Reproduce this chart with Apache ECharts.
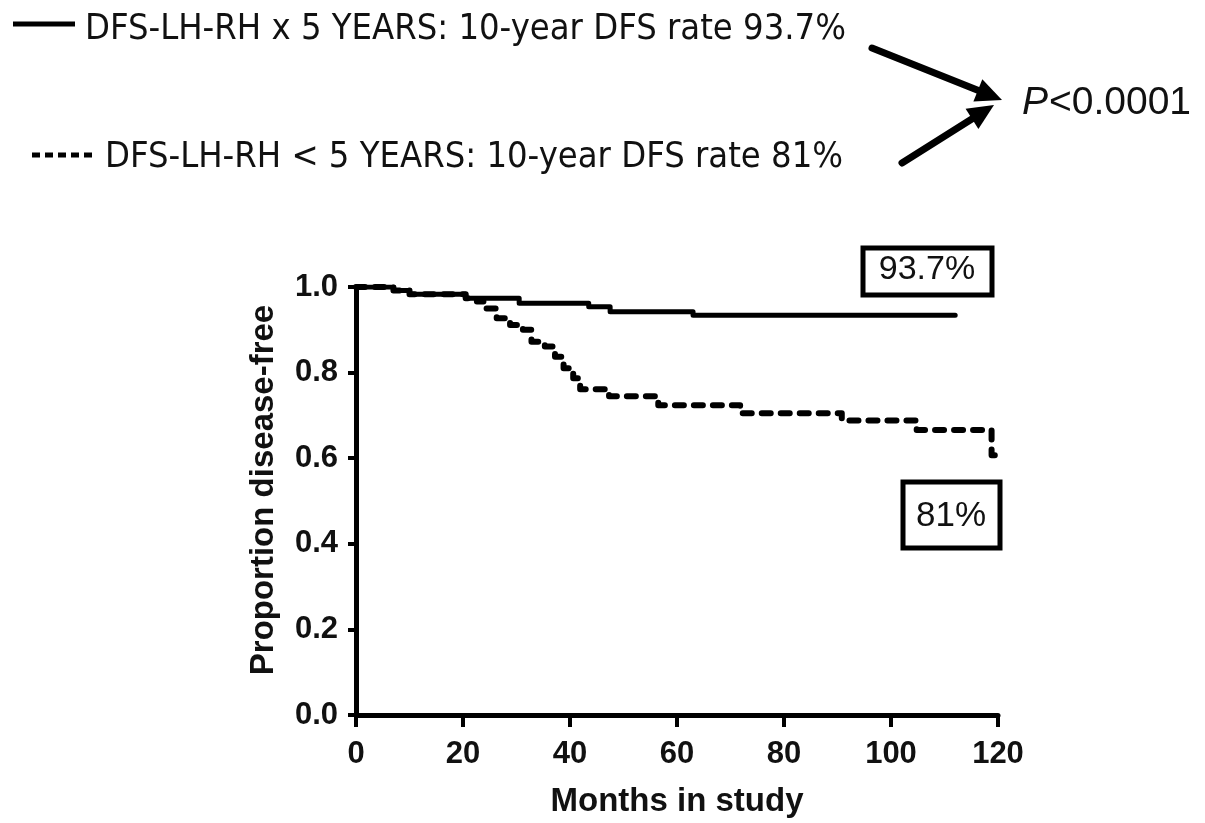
<!DOCTYPE html>
<html>
<head>
<meta charset="utf-8">
<script src="https://cdn.jsdelivr.net/npm/echarts@6/dist/echarts.min.js"></script>
<style>
html,body{margin:0;padding:0;background:#fff;}
#chart{width:1205px;height:823px;}
</style>
</head>
<body>
<div id="chart"></div>
<script>
// ---- data ----
const xTicks = [0, 20, 40, 60, 80, 100, 120];
const yTicks = [0.0, 0.2, 0.4, 0.6, 0.8, 1.0];

const longTimes  = [0, 7, 10, 20.5, 30.5, 43.5, 47.5, 63, 112];
const longValues = [1.0, 0.992, 0.983, 0.974, 0.962, 0.954, 0.942, 0.934, 0.934];

const shortTimes  = [0, 7, 10, 20.5, 22.6, 24.4, 26.3, 28.8, 31.2, 32.8, 35.3, 37.2, 38.8, 40.6, 41.9, 47.3, 56.5, 71.8, 90.8, 104.8, 118.8, 119.8];
const shortValues = [1.0, 0.992, 0.983, 0.974, 0.966, 0.950, 0.927, 0.911, 0.900, 0.872, 0.861, 0.837, 0.810, 0.787, 0.761, 0.745, 0.724, 0.705, 0.688, 0.666, 0.607, 0.600];

const legendLong  = 'DFS-LH-RH x 5 YEARS: 10-year DFS rate 93.7%';
const legendShort = 'DFS-LH-RH < 5 YEARS: 10-year DFS rate 81%';
const pValueItalic = 'P';
const pValueRest = '<0.0001';
const boxLong = '93.7%';
const boxShort = '81%';
const xName = 'Months in study';
const yName = 'Proportion disease-free';

// ---- chart ----
const chart = echarts.init(document.getElementById('chart'), null, {renderer: 'canvas'});
const narrow = '"Liberation Sans Narrow","DejaVu Sans Condensed","Arial Narrow","Liberation Sans",Arial,sans-serif';
const sans = '"Liberation Sans",Arial,Helvetica,sans-serif';

const longData = longTimes.map((t, i) => [t, longValues[i]]);
const shortData = shortTimes.map((t, i) => [t, shortValues[i]]);

function arrowHead(tipX, tipY, fromX, fromY, len, half) {
  const dx = tipX - fromX, dy = tipY - fromY;
  const L = Math.sqrt(dx*dx + dy*dy);
  const ux = dx / L, uy = dy / L;
  const bx = tipX - ux*len, by = tipY - uy*len;
  return [[tipX, tipY], [bx - uy*half, by + ux*half], [bx + uy*half, by - ux*half]];
}
function shaft(tipX, tipY, fromX, fromY, len) {
  const dx = tipX - fromX, dy = tipY - fromY;
  const L = Math.sqrt(dx*dx + dy*dy);
  return {x1: fromX, y1: fromY, x2: tipX - dx / L * (len - 4), y2: tipY - dy / L * (len - 4)};
}

const a1 = {fx: 872, fy: 48, tx: 1002, ty: 100};
const a2 = {fx: 902, fy: 163, tx: 994, ty: 105};

const option = {
  backgroundColor: '#fff',
  animation: false,
  grid: {left: 356, right: 207, top: 287, bottom: 108, containLabel: false},
  xAxis: {
    type: 'value', min: 0, max: 120, interval: 20,
    name: xName, nameLocation: 'middle', nameGap: 70,
    nameTextStyle: {fontFamily: sans, fontWeight: 'bold', fontSize: 33, color: '#111'},
    axisLine: {show: true, lineStyle: {color: '#000', width: 5}},
    axisTick: {show: true, length: 12, lineStyle: {color: '#000', width: 4}},
    axisLabel: {fontFamily: sans, fontWeight: 'bold', fontSize: 31, color: '#111', margin: 24},
    splitLine: {show: false}
  },
  yAxis: {
    type: 'value', min: 0, max: 1, interval: 0.2,
    name: yName, nameLocation: 'middle', nameGap: 76, nameRotate: 90,
    nameTextStyle: {fontFamily: sans, fontWeight: 'bold', fontSize: 33, color: '#111', padding: [0, 0, 0, 22]},
    axisLine: {show: true, lineStyle: {color: '#000', width: 5}},
    axisTick: {show: true, length: 8, lineStyle: {color: '#000', width: 4}},
    axisLabel: {fontFamily: sans, fontWeight: 'bold', fontSize: 31, color: '#111', margin: 18,
      formatter: v => v.toFixed(1)},
    splitLine: {show: false}
  },
  series: [
    {
      type: 'line', name: 'short', step: 'end', data: shortData, showSymbol: false, z: 2,
      lineStyle: {color: '#000', width: 6, type: [9, 10], cap: 'round', join: 'round'}
    },
    {
      type: 'line', name: 'long', step: 'end', data: longData, showSymbol: false, z: 3,
      lineStyle: {color: '#000', width: 5, cap: 'round', join: 'round'}
    }
  ],
  graphic: [
    // legend line 1
    {type: 'line', shape: {x1: 13, y1: 24, x2: 75, y2: 24}, style: {stroke: '#000', lineWidth: 5}},
    {type: 'text', x: 85, y: 30, style: {text: legendLong, font: '36px ' + narrow, fill: '#111', textVerticalAlign: 'middle'}},
    // legend line 2
    {type: 'line', shape: {x1: 32, y1: 155, x2: 93, y2: 155}, style: {stroke: '#000', lineWidth: 5, lineDash: [8, 5]}},
    {type: 'text', x: 105, y: 158, style: {text: legendShort, font: '36px ' + narrow, fill: '#111', textVerticalAlign: 'middle'}},
    // P value
    {type: 'text', x: 1022, y: 103, style: {text: pValueItalic, font: 'italic 39px ' + sans, fill: '#111', textVerticalAlign: 'middle'}},
    {type: 'text', x: 1049, y: 103, style: {text: pValueRest, font: '39px ' + sans, fill: '#111', textVerticalAlign: 'middle'}},
    // arrows
    {type: 'line', shape: shaft(a1.tx, a1.ty, a1.fx, a1.fy, 26), style: {stroke: '#000', lineWidth: 7, lineCap: 'round'}},
    {type: 'polygon', shape: {points: arrowHead(a1.tx, a1.ty, a1.fx, a1.fy, 26, 12)}, style: {fill: '#000'}},
    {type: 'line', shape: shaft(a2.tx, a2.ty, a2.fx, a2.fy, 26), style: {stroke: '#000', lineWidth: 7, lineCap: 'round'}},
    {type: 'polygon', shape: {points: arrowHead(a2.tx, a2.ty, a2.fx, a2.fy, 26, 12)}, style: {fill: '#000'}},
    // boxes
    {type: 'rect', shape: {x: 863, y: 248, width: 129, height: 47}, style: {fill: '#fff', stroke: '#000', lineWidth: 5}},
    {type: 'text', x: 927, y: 270, style: {text: boxLong, font: '34px ' + sans, fill: '#111', textAlign: 'center', textVerticalAlign: 'middle'}},
    {type: 'rect', shape: {x: 903, y: 482, width: 97, height: 66}, style: {fill: '#fff', stroke: '#000', lineWidth: 5}},
    {type: 'text', x: 951, y: 516, style: {text: boxShort, font: '35px ' + sans, fill: '#111', textAlign: 'center', textVerticalAlign: 'middle'}}
  ]
};
chart.setOption(option);
</script>
</body>
</html>
